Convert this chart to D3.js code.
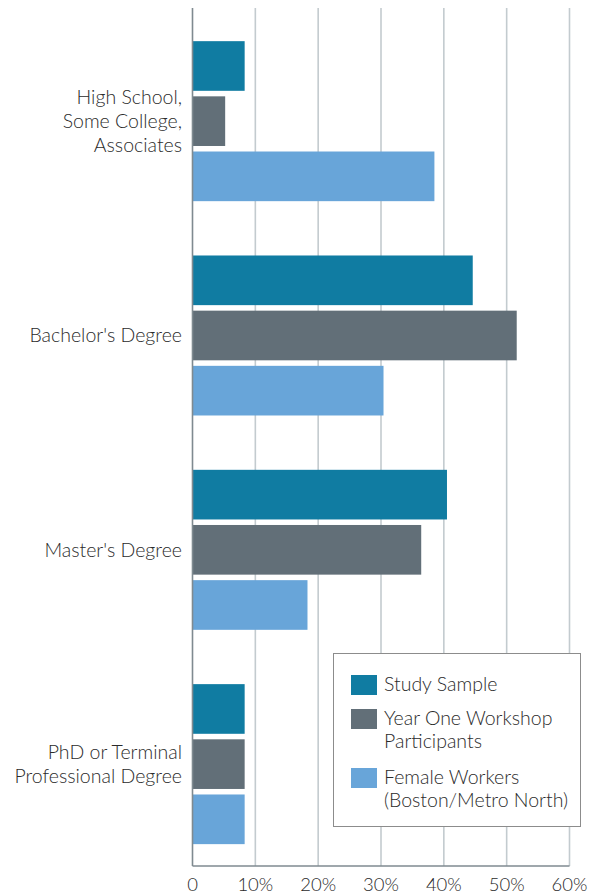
<!DOCTYPE html>
<html>
<head>
<meta charset="utf-8">
<script src="https://cdn.jsdelivr.net/npm/d3@7"></script>
<style>
  body { margin: 0; background: #fff; }
  svg text { font-family: Lato, "Open Sans", sans-serif; font-weight: 300; fill: #2b2b2b; }
</style>
</head>
<body>
<div id="chart"></div>
<script>
'use strict'

// data
let categories = ['High School,|Some College,|Associates', "Bachelor's Degree", "Master's Degree", 'PhD or Terminal|Professional Degree'];
let seriesNames = ['Study Sample', 'Year One Workshop|Participants', 'Female Workers|(Boston/Metro North)'];
let studySample = [8.3, 44.6, 40.5, 8.3];
let yearOne = [5.2, 51.6, 36.4, 8.3];
let femaleWorkers = [38.5, 30.4, 18.3, 8.3];
let tickValues = [0, 10, 20, 30, 40, 50, 60];
let tickLabels = ['0', '10%', '20%', '30%', '40%', '50%', '60%'];
let colors = ['#107ca2', '#626f78', '#68a5d9'];

let width = 602, height = 896;
let plotLeft = 192.5, plotRight = 569.5, plotTop = 8, plotBottom = 866;

let svg = d3.select('#chart').append('svg')
  .attr('width', width)
  .attr('height', height);

let x = d3.scaleLinear().domain([0, 60]).range([plotLeft, plotRight]);
let y = d3.scaleBand().domain(d3.range(categories.length)).range([14, 871.3]).padding(0);
let inner = d3.scaleBand().domain(d3.range(3)).range([0, 160]).paddingInner(0.1);

// gridlines
svg.append('g').selectAll('line')
  .data(tickValues.slice(1))
  .enter().append('line')
  .attr('x1', function(d) { return x(d); })
  .attr('x2', function(d) { return x(d); })
  .attr('y1', plotTop)
  .attr('y2', plotBottom)
  .attr('stroke', '#c3cbcf')
  .attr('stroke-width', 1.6);

// bars
let series = [studySample, yearOne, femaleWorkers];
let groups = svg.append('g').selectAll('g')
  .data(categories)
  .enter().append('g')
  .attr('transform', function(d, i) { return 'translate(0,' + (y(i) + y.bandwidth()/2 - 80) + ')'; });

groups.selectAll('rect')
  .data(function(d, i) { return series.map(function(s, j) { return {s: j, v: s[i]}; }); })
  .enter().append('rect')
  .attr('x', x(0))
  .attr('y', function(d) { return inner(d.s); })
  .attr('width', function(d) { return x(d.v) - x(0); })
  .attr('height', inner.bandwidth())
  .attr('fill', function(d) { return colors[d.s]; });

// category labels
groups.each(function(d) {
  let lines = d.split('|');
  let t = d3.select(this).append('text')
    .attr('text-anchor', 'end')
    .attr('font-size', 19.5)
    .attr('x', 182);
  lines.forEach(function(l, k) {
    t.append('tspan')
      .attr('x', 182)
      .attr('y', 80 + 7 + (k - (lines.length - 1)/2) * 24)
      .text(l);
  });
});

// axes lines
svg.append('line')
  .attr('x1', plotLeft).attr('x2', plotLeft)
  .attr('y1', plotTop).attr('y2', plotBottom)
  .attr('stroke', '#7f8a90').attr('stroke-width', 1.6);
svg.append('line')
  .attr('x1', plotLeft).attr('x2', x(60))
  .attr('y1', plotBottom).attr('y2', plotBottom)
  .attr('stroke', '#7f8a90').attr('stroke-width', 1.4);

// tick labels
svg.append('g').selectAll('text')
  .data(tickValues)
  .enter().append('text')
  .attr('x', function(d) { return x(d); })
  .attr('y', 891)
  .attr('text-anchor', 'middle')
  .attr('font-size', 18.5)
  .text(function(d, i) { return tickLabels[i]; });

// legend
let legend = svg.append('g');
legend.append('rect')
  .attr('x', 333.5).attr('y', 653.5)
  .attr('width', 247).attr('height', 173)
  .attr('fill', '#fff')
  .attr('stroke', '#8c8c8c')
  .attr('stroke-width', 1);

let legendY = [675, 709, 768];
seriesNames.forEach(function(name, i) {
  legend.append('rect')
    .attr('x', 351).attr('y', legendY[i])
    .attr('width', 26).attr('height', 20)
    .attr('fill', colors[i]);
  name.split('|').forEach(function(l, k) {
    legend.append('text')
      .attr('x', 384)
      .attr('y', legendY[i] + 16 + k * 23)
      .attr('font-size', 19.5)
      .text(l);
  });
});
</script>
</body>
</html>
